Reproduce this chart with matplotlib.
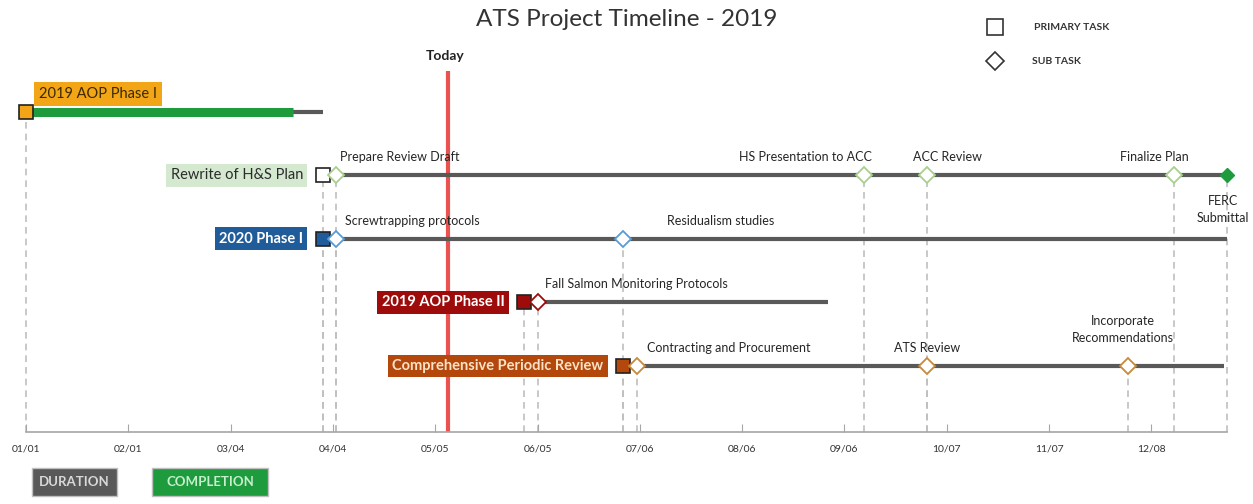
import matplotlib
matplotlib.use("Agg")
import matplotlib.pyplot as plt
from matplotlib.patches import Rectangle
from matplotlib.lines import Line2D

plt.rcParams['font.family'] = ['Lato', 'DejaVu Sans']

# Primary tasks (day of year 2019)
tasks = ["2019 AOP Phase I", "Rewrite of H&S Plan", "2020 Phase I",
         "2019 AOP Phase II", "Comprehensive Periodic Review"]
task_start = [0, 90, 90, 151, 181]
task_end = [90, 364, 364, 243, 363]
task_done = [81, None, None, None, None]

# Sub tasks
sub_names = ["Prepare Review Draft", "HS Presentation to ACC", "ACC Review",
             "Finalize Plan", "FERC\nSubmittal", "Screwtrapping protocols",
             "Residualism studies", "Fall Salmon Monitoring Protocols",
             "Contracting and Procurement", "ATS Review",
             "Incorporate\nRecommendations"]
sub_day = [94, 254, 273, 348, 364, 94, 181, 155, 185, 273, 334]
sub_task = [1, 1, 1, 1, 1, 2, 2, 3, 4, 4, 4]
sub_done = [False, False, False, False, True, False, False, False, False, False, False]

today = 128
tick_days = [0, 31, 62, 93, 124, 155, 186, 217, 248, 279, 310, 341]
tick_labels = ["01/01", "02/01", "03/04", "04/04", "05/05", "06/05",
               "07/06", "08/06", "09/06", "10/07", "11/07", "12/08"]

# styling
task_fill = ["#F2A516", "white", "#1F5C99", "#9E0B0B", "#B4470C"]
task_lbl_bg = ["#F2A516", "#D5E8D0", "#1F5C99", "#9E0B0B", "#B4470C"]
task_lbl_fg = ["#3A2A00", "#2B2B2B", "white", "white", "#FBE3C8"]
task_lbl_bold = [False, False, True, True, True]
sub_edge = ["#F2A516", "#A8D08D", "#5B9BD5", "#9E0B0B", "#C8893A"]
# text offsets (pixels) and alignment for sub task labels
sub_dx = [4, 8, -14, -20, -4, 9, 44, 7, 10, 0, -5]
sub_dy = [18, 18, 18, 18, -34, 18, 18, 18, 18, 18, 36]
sub_ha = ["left", "right", "left", "center", "center", "left", "left",
          "left", "left", "center", "center"]

GRAY = "#595959"
fig = plt.figure(figsize=(12.53, 5.04), dpi=100)
ax = fig.add_axes([0, 72 / 504, 1, 432 / 504])
ylo = -0.04
ax.set_xlim(-7.88, 371.8)
ax.set_ylim(ylo, 6.76)
rows = [5, 4, 3, 2, 1]

# dashed drop lines
for i in range(len(tasks)):
    ax.vlines(task_start[i], ylo, rows[i], colors="#BFBFBF", linestyles=(0, (4, 3)), lw=1.2, zorder=1)
for j in range(len(sub_names)):
    ax.vlines(sub_day[j], ylo, rows[sub_task[j]], colors="#BFBFBF", linestyles=(0, (4, 3)), lw=1.2, zorder=1)

# today line
ax.vlines(today, ylo, 5.64, colors="#E8524F", lw=3, zorder=2)
ax.text(today - 1, 5.88, "Today", ha="center", va="center", fontsize=10,
        fontweight="bold", color="#222222")

# duration / completion bars
for i in range(len(tasks)):
    y = rows[i]
    ax.plot([task_start[i], task_end[i]], [y, y], color=GRAY, lw=3, zorder=3,
            solid_capstyle="butt")
    if task_done[i] is not None:
        ax.plot([task_start[i], task_done[i]], [y, y], color="#1E9B3C", lw=6.5,
                zorder=4, solid_capstyle="butt")
    ax.plot(task_start[i], y, marker="s", ms=10, mfc=task_fill[i], mec="#222222",
            mew=1.2, zorder=6)
    if i == 0:
        ax.annotate(tasks[i], (task_start[i], y), xytext=(13, 18), textcoords="offset pixels",
                    ha="left", va="center", fontsize=10.5, color=task_lbl_fg[i],
                    bbox=dict(boxstyle="square,pad=0.35", fc=task_lbl_bg[i], ec="none"))
    else:
        ax.annotate(tasks[i], (task_start[i], y), xytext=(-20, 0), textcoords="offset pixels",
                    ha="right", va="center", fontsize=10.5, color=task_lbl_fg[i],
                    fontweight="bold" if task_lbl_bold[i] else "normal",
                    bbox=dict(boxstyle="square,pad=0.3", fc=task_lbl_bg[i], ec="none"))

# sub tasks
for j in range(len(sub_names)):
    y = rows[sub_task[j]]
    if sub_done[j]:
        ax.plot(sub_day[j], y, marker="D", ms=7, mfc="#1E9B3C", mec="#1E9B3C", zorder=7)
    else:
        ax.plot(sub_day[j], y, marker="D", ms=8, mfc="white", mec=sub_edge[sub_task[j]],
                mew=1.3, zorder=7)
    ax.annotate(sub_names[j], (sub_day[j], y), xytext=(sub_dx[j], sub_dy[j]),
                textcoords="offset pixels", ha=sub_ha[j], va="center", fontsize=9,
                color="#262626", linespacing=1.5)

# axis
for s in ["top", "left", "right"]:
    ax.spines[s].set_visible(False)
ax.spines["bottom"].set_color("#A6A6A6")
ax.spines["bottom"].set_linewidth(1.2)
ax.spines["bottom"].set_bounds(0, 364)
ax.set_yticks([])
ax.set_xticks(tick_days)
ax.set_xticklabels(tick_labels)
ax.tick_params(axis="x", direction="in", length=6, color="#A6A6A6", pad=9,
               labelsize=7.5, labelcolor="#333333")

# title
fig.text(627 / 1253, 1 - 19 / 504, "ATS Project Timeline - 2019", ha="center", va="center",
         fontsize=17.5, color="#333333")

# top-right legend
fig.add_artist(Line2D([995 / 1253], [1 - 27 / 504], marker="s", ms=11, mfc="white",
                      mec="#333333", mew=1.2, transform=fig.transFigure))
fig.text(1034 / 1253, 1 - 27 / 504, "PRIMARY TASK", ha="left", va="center", fontsize=7.5,
         fontweight="bold", color="#333333")
fig.add_artist(Line2D([995 / 1253], [1 - 61 / 504], marker="D", ms=9, mfc="white",
                      mec="#333333", mew=1.2, transform=fig.transFigure))
fig.text(1032 / 1253, 1 - 61 / 504, "SUB TASK", ha="left", va="center", fontsize=7.5,
         fontweight="bold", color="#333333")

# bottom legend boxes
fig.add_artist(Rectangle((32 / 1253, 1 - 496 / 504), 85 / 1253, 28 / 504, fc=GRAY,
                         ec="#BFBFBF", transform=fig.transFigure))
fig.text(74.5 / 1253, 1 - 482 / 504, "DURATION", ha="center", va="center", fontsize=9.5,
         fontweight="bold", color="#D9D9D9")
fig.add_artist(Rectangle((152 / 1253, 1 - 496 / 504), 116 / 1253, 28 / 504, fc="#1E9B3C",
                         ec="#BFBFBF", transform=fig.transFigure))
fig.text(210 / 1253, 1 - 482 / 504, "COMPLETION", ha="center", va="center", fontsize=9.5,
         fontweight="bold", color="#C6EFCE")

fig.savefig("out.png", dpi=100)
